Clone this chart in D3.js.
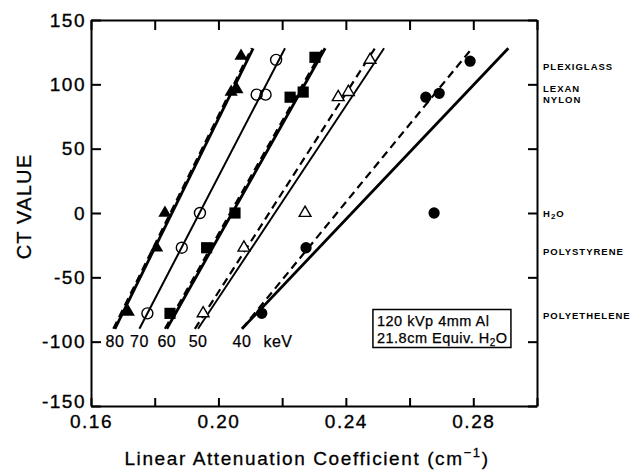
<!DOCTYPE html>
<html lang="en">
<head>
<meta charset="UTF-8">
<script src="https://cdn.jsdelivr.net/npm/d3@7"></script>
<title>CT value vs linear attenuation coefficient</title>
<style>
    body { margin: 0; background: white; }
    text { font-family: "Liberation Sans", Arial, sans-serif; fill: black; }
    .axis path, .axis line { stroke: black; stroke-width: 2px; }
    .axis text { font-size: 19px; letter-spacing: 1.5px; font-family: "Liberation Sans", Arial, sans-serif; stroke: black; stroke-width: 0.35px; }
    .material { font-size: 9.5px; font-weight: bold; letter-spacing: 1px; }
    .kev { font-size: 16px; letter-spacing: 0.5px; stroke: black; stroke-width: 0.25px; }
    .note { font-size: 14.5px; letter-spacing: 0.5px; stroke: black; stroke-width: 0.25px; }
</style>
</head>
<body>
<svg id="chart"></svg>
<script>
    // axis ticks
    const xTickValues = [0.16, 0.18, 0.20, 0.22, 0.24, 0.26, 0.28, 0.30];
    const xTickLabels = ["0.16", "", "0.20", "", "0.24", "", "0.28", ""];
    const yTickValues = [-150, -100, -50, 0, 50, 100, 150];

    // beam energies (keV)
    const energies = ["80", "70", "60", "50", "40"];

    // measured points: mu (cm-1) and CT value, order plexiglass, lexan, nylon, H2O, polystyrene, polyethelene
    const mu80 = [0.2071, 0.2058, 0.2040, 0.1832, 0.1806, 0.1717];
    const ct80 = [122, 96, 94, 0, -27, -77];
    const mu70 = [0.2181, 0.2148, 0.2120, 0.1942, 0.1885, 0.1777];
    const ct70 = [119, 92, 92, 0, -27, -78];
    const mu60 = [0.2303, 0.2266, 0.2225, 0.2052, 0.1963, 0.1848];
    const ct60 = [121, 94, 90, 0, -27, -78];
    const mu50 = [0.2476, 0.2408, 0.2376, 0.2272, 0.2080, 0.1952];
    const ct50 = [119, 94, 90, 0, -27, -78];
    const mu40 = [0.2790, 0.2693, 0.2651, 0.2677, 0.2275, 0.2136];
    const ct40 = [118, 93, 90, 0, -27, -78];

    // fitted lines, CT range they span and mu at each end
    const lineCT = [-90, 128];
    const solidLow = [0.1675, 0.1752, 0.1838, 0.1936, 0.2074];
    const solidHigh = [0.2109, 0.2209, 0.2335, 0.2520, 0.2910];
    const dashLow = [0.1670, null, 0.1832, 0.1926, 0.2074];
    const dashHigh = [0.2104, null, 0.2329, 0.2491, 0.2796];

    // material labels on the right side, at their CT level
    const materials = ["PLEXIGLASS", "LEXAN", "NYLON", "H2O", "POLYSTYRENE", "POLYETHELENE"];
    const labelCT = [114, 97, 88, 0, -30, -80];

    const width = 642, height = 472;
    const margin = { top: 20, right: 105, bottom: 66, left: 91 };

    const svg = d3.select("#chart")
        .attr("width", width)
        .attr("height", height);

    const x = d3.scaleLinear().domain([0.16, 0.30]).range([margin.left, width - margin.right]);
    const y = d3.scaleLinear().domain([-150, 150]).range([height - margin.bottom, margin.top]);

    // axes, all ticks pointing inward
    svg.append("g").attr("class", "axis")
        .attr("transform", `translate(0,${height - margin.bottom})`)
        .call(d3.axisBottom(x).tickValues(xTickValues).tickSize(-8).tickSizeOuter(0).tickPadding(9)
            .tickFormat((d, i) => xTickLabels[i]));
    svg.append("g").attr("class", "axis")
        .attr("transform", `translate(0,${margin.top})`)
        .call(d3.axisTop(x).tickValues(xTickValues).tickSize(-10).tickSizeOuter(0).tickFormat(""));
    const yAxis = svg.append("g").attr("class", "axis")
        .attr("transform", `translate(${margin.left},0)`)
        .call(d3.axisLeft(y).tickValues(yTickValues).tickSize(-10).tickSizeOuter(0).tickPadding(5)
            .tickFormat(d => d));
    // lift the bottom label a little so it clears 0.16
    yAxis.selectAll(".tick text").filter(d => d == -150).attr("dy", "0.1em");
    svg.append("g").attr("class", "axis")
        .attr("transform", `translate(${width - margin.right},0)`)
        .call(d3.axisRight(y).tickValues(yTickValues).tickSize(-9).tickSizeOuter(0).tickFormat(""));

    // lines
    const line = d3.line().x(d => x(d[0])).y(d => y(d[1]));
    const widths = [2.8, 2, 2.8, 1.9, 2.8];
    energies.forEach((e, i) => {
        svg.append("path")
            .attr("d", line([[solidLow[i], lineCT[0]], [solidHigh[i], lineCT[1]]]))
            .attr("fill", "none").attr("stroke", "black").attr("stroke-width", widths[i]);
        if (dashLow[i] != null) {
            svg.append("path")
                .attr("d", line([[dashLow[i], lineCT[0]], [dashHigh[i], lineCT[1]]]))
                .attr("fill", "none").attr("stroke", "black").attr("stroke-width", 2.2)
                .attr("stroke-dasharray", "8,5");
        }
    });

    // markers
    const series = [
        { mu: mu80, ct: ct80, type: d3.symbolTriangle, size: 75, fill: "black" },
        { mu: mu70, ct: ct70, type: d3.symbolCircle, size: 95, fill: "none" },
        { mu: mu60, ct: ct60, type: d3.symbolSquare, size: 125, fill: "black" },
        { mu: mu50, ct: ct50, type: d3.symbolTriangle, size: 60, fill: "white" },
        { mu: mu40, ct: ct40, type: d3.symbolCircle, size: 100, fill: "black" }
    ];
    series.forEach(s => {
        svg.append("g").selectAll("path")
            .data(s.mu.map((m, i) => [m, s.ct[i]]))
            .enter()
            .append("path")
            .attr("transform", d => `translate(${x(d[0])},${y(d[1])})`)
            .attr("d", d3.symbol().type(s.type).size(s.size))
            .attr("fill", s.fill)
            .attr("stroke", "black")
            .attr("stroke-width", s.fill == "black" ? 0 : 1.4);
    });

    // keV labels under the line ends
    energies.forEach((e, i) => {
        svg.append("text").attr("class", "kev")
            .attr("x", x(solidLow[i])).attr("y", y(lineCT[0]) + 18)
            .attr("text-anchor", "middle").text(e);
    });
    svg.append("text").attr("class", "kev")
        .attr("x", x(solidLow[4]) + 36).attr("y", y(lineCT[0]) + 18)
        .attr("text-anchor", "middle").text("keV");

    // material labels
    const matText = svg.append("g").selectAll("text")
        .data(materials)
        .enter()
        .append("text")
        .attr("class", "material")
        .attr("x", width - margin.right + 6)
        .attr("y", (d, i) => y(labelCT[i]) + 3.5);
    matText.each(function (d) {
        const t = d3.select(this);
        if (d == "H2O") {
            t.append("tspan").text("H");
            t.append("tspan").attr("dy", 2).attr("font-size", "8px").text("2");
            t.append("tspan").attr("dy", -2).text("O");
        } else {
            t.text(d);
        }
    });

    // note box
    const bx = x(0.2485), by = y(-75);
    svg.append("rect")
        .attr("x", bx).attr("y", by).attr("width", 138).attr("height", 38)
        .attr("fill", "white").attr("stroke", "black").attr("stroke-width", 1.5);
    svg.append("text").attr("class", "note").attr("x", bx + 4).attr("y", by + 16).text("120 kVp 4mm Al");
    const n2 = svg.append("text").attr("class", "note").attr("x", bx + 4).attr("y", by + 33);
    n2.append("tspan").text("21.8cm Equiv. H");
    n2.append("tspan").attr("dy", 3).attr("font-size", "10px").text("2");
    n2.append("tspan").attr("dy", -3).text("O");

    // axis titles
    svg.append("text")
        .attr("transform", `translate(31,${y(5)}) rotate(-90)`)
        .attr("text-anchor", "middle")
        .attr("font-size", "20px")
        .attr("letter-spacing", "1.2px")
        .attr("stroke", "black").attr("stroke-width", 0.3)
        .text("CT VALUE");
    const xt = svg.append("text")
        .attr("x", (margin.left + width - margin.right) / 2 - 7)
        .attr("y", height - 7)
        .attr("text-anchor", "middle")
        .attr("font-size", "19px")
        .attr("letter-spacing", "1.6px")
        .attr("stroke", "black").attr("stroke-width", 0.3);
    xt.append("tspan").text("Linear Attenuation Coefficient  (cm");
    xt.append("tspan").attr("dy", -8).attr("font-size", "13px").text("−1");
    xt.append("tspan").attr("dy", 8).text(")");
</script>
</body>
</html>
